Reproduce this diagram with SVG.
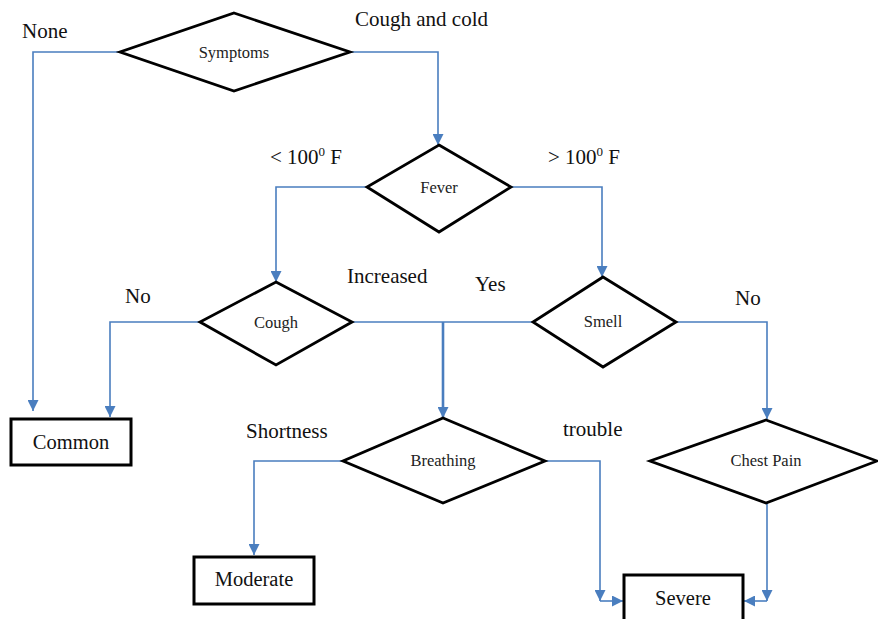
<svg xmlns="http://www.w3.org/2000/svg" width="878" height="619" viewBox="0 0 878 619">
<style>
.dia{fill:#fff;stroke:#000;stroke-width:2.8;stroke-linejoin:miter}
.box{fill:#fff;stroke:#000;stroke-width:3}
.con{fill:none;stroke:#4a7ebf;stroke-width:1.6}
.thick{stroke-width:2.6}
.nl{font-family:"Liberation Serif","Times New Roman",serif;font-size:16.5px;fill:#222;text-anchor:middle}
.bl{font-family:"Liberation Serif","Times New Roman",serif;font-size:20.5px;fill:#111;text-anchor:middle}
.lab{font-family:"Liberation Serif","Times New Roman",serif;font-size:21px;fill:#111}
</style>
<defs>
<marker id="ah" viewBox="0 0 10 10" refX="10" refY="5" markerUnits="userSpaceOnUse" markerWidth="11" markerHeight="11" orient="auto">
<path d="M0,0 L10,5 L0,10 z" fill="#4a7ebf"/>
</marker>
</defs>
<rect width="878" height="619" fill="#fff"/>
<g id="connectors">
<path class="con" d="M120,52 H33 V411" marker-end="url(#ah)"/>
<path class="con" d="M350,52 H438 V145" marker-end="url(#ah)"/>
<path class="con" d="M367,187 H276 V282" marker-end="url(#ah)"/>
<path class="con" d="M511,187 H602 V277" marker-end="url(#ah)"/>
<path class="con" d="M200,322 H110 V417" marker-end="url(#ah)"/>
<path class="con" d="M352,322 H533"/>
<path class="con thick" d="M443,322 V418" marker-end="url(#ah)"/>
<path class="con" d="M676,322 H767 V419" marker-end="url(#ah)"/>
<path class="con" d="M343,461 H254 V555" marker-end="url(#ah)"/>
<path class="con" d="M545,461 H600 V601" marker-end="url(#ah)"/>
<path class="con" d="M600,601 H623" marker-end="url(#ah)"/>
<path class="con" d="M767,503 V601" marker-end="url(#ah)"/>
<path class="con" d="M767,601 H744" marker-end="url(#ah)"/>
</g>
<g id="labels">
<text class="lab" x="22" y="38">None</text>
<text class="lab" x="355" y="26">Cough and cold</text>
<text class="lab" x="270" y="164">&lt; 100<tspan font-size="13" dy="-8">0</tspan><tspan dy="8"> F</tspan></text>
<text class="lab" x="548" y="164">&gt; 100<tspan font-size="13" dy="-8">0</tspan><tspan dy="8"> F</tspan></text>
<text class="lab" x="347" y="283">Increased</text>
<text class="lab" x="475" y="291">Yes</text>
<text class="lab" x="125" y="303">No</text>
<text class="lab" x="735" y="305">No</text>
<text class="lab" x="246" y="438">Shortness</text>
<text class="lab" x="563" y="436">trouble</text>
</g>
<g id="symptoms">
<polygon class="dia" points="234,13 350,52 234,91 120,52"/>
<text class="nl" x="234" y="58">Symptoms</text>
</g>
<g id="fever">
<polygon class="dia" points="439,145 511,187 439,232 367,187"/>
<text class="nl" x="439" y="193">Fever</text>
</g>
<g id="cough">
<polygon class="dia" points="276,282 352,322 276,365 200,322"/>
<text class="nl" x="276" y="328">Cough</text>
</g>
<g id="smell">
<polygon class="dia" points="603,277 676,322 603,367 533,322"/>
<text class="nl" x="603" y="327">Smell</text>
</g>
<g id="breathing">
<polygon class="dia" points="443,418 545,461 443,503 343,461"/>
<text class="nl" x="443" y="466">Breathing</text>
</g>
<g id="chestpain">
<polygon class="dia" points="766,420 877,461 766,503 650,461"/>
<text class="nl" x="766" y="466">Chest Pain</text>
</g>
<g id="common">
<rect class="box" x="11" y="419" width="120" height="46"/>
<text class="bl" x="71" y="449">Common</text>
</g>
<g id="moderate">
<rect class="box" x="194" y="557" width="120" height="47"/>
<text class="bl" x="254" y="586">Moderate</text>
</g>
<g id="severe">
<rect class="box" x="624" y="575" width="119" height="52"/>
<text class="bl" x="683" y="605">Severe</text>
</g>
</svg>
